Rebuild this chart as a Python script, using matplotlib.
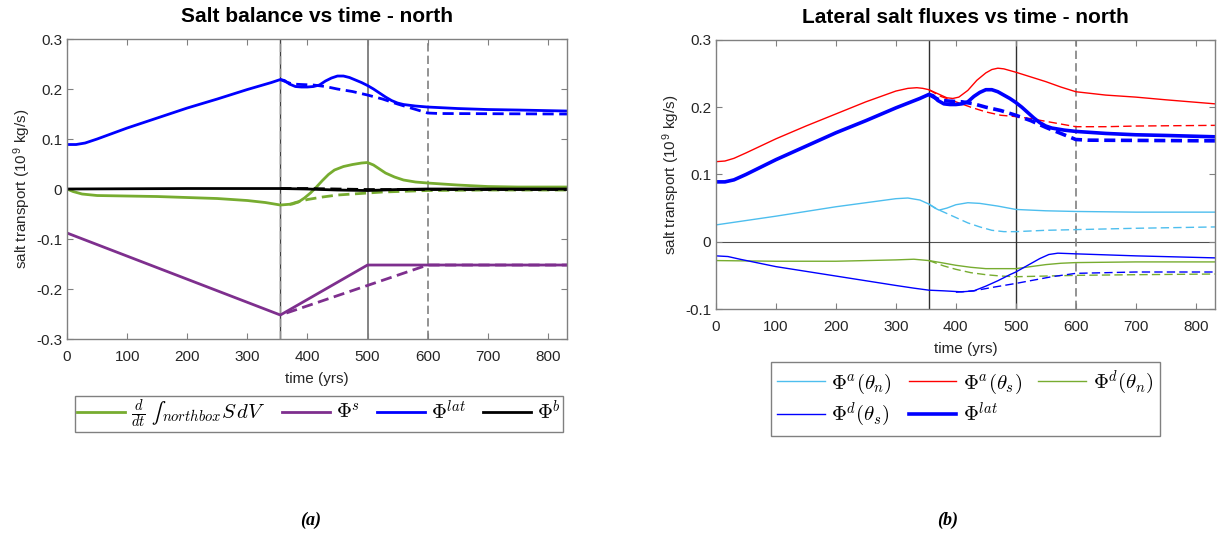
"""Salt balance / lateral salt fluxes vs time, north box (two panels)."""
import matplotlib
matplotlib.use("Agg")
import matplotlib.pyplot as plt

plt.rcParams["font.family"] = ["Liberation Sans", "DejaVu Sans"]
plt.rcParams["mathtext.fontset"] = "cm"
plt.rcParams["lines.scale_dashes"] = False

XMAX = 832
T_SWITCH = 355      # forcing change
T_END_A = 500       # end of ramp (solid)
T_END_B = 600       # end of ramp (dashed)

# ---- Phi^lat (shared by both panels) ----
t_lat = [0, 15, 30, 50, 75, 100, 150, 200, 250, 300, 340, 355, 362, 370, 380, 390,
         400, 410, 420, 430, 440, 450, 460, 470, 480, 490, 500, 510, 520, 530, 540,
         550, 560, 580, 600, 650, 700, 750, 832]
lat = [0.089, 0.089, 0.092, 0.100, 0.111, 0.122, 0.142, 0.162, 0.180, 0.199, 0.213,
       0.219, 0.217, 0.210, 0.205, 0.204, 0.204, 0.205, 0.208, 0.216, 0.222, 0.226,
       0.226, 0.223, 0.218, 0.213, 0.207, 0.200, 0.192, 0.184, 0.177, 0.172, 0.169,
       0.166, 0.164, 0.161, 0.159, 0.158, 0.156]
t_lat_d = [355, 365, 375, 390, 410, 430, 450, 475, 500, 525, 550, 575, 600, 620, 832]
lat_d = [0.219, 0.214, 0.210, 0.209, 0.208, 0.205, 0.200, 0.195, 0.188, 0.180,
         0.170, 0.161, 0.152, 0.151, 0.150]

# ---- panel (a) ----
t_dsdt = [0, 10, 25, 50, 100, 150, 200, 250, 300, 330, 355, 365, 375, 385, 395, 405,
          415, 425, 435, 445, 460, 475, 490, 500, 510, 520, 530, 545, 560, 580, 600,
          650, 700, 750, 832]
dsdt = [0.0, -0.005, -0.010, -0.013, -0.014, -0.015, -0.017, -0.019, -0.023, -0.027,
        -0.032, -0.031, -0.030, -0.026, -0.018, -0.008, 0.004, 0.017, 0.029, 0.038,
        0.045, 0.049, 0.052, 0.053, 0.048, 0.040, 0.032, 0.024, 0.018, 0.014, 0.012,
        0.008, 0.005, 0.004, 0.004]
t_dsdt_d = [370, 380, 400, 425, 450, 475, 500, 525, 550, 600, 700, 832]
dsdt_d = [-0.031, -0.027, -0.021, -0.016, -0.012, -0.010, -0.008, -0.006, -0.005,
          -0.003, -0.002, -0.002]

t_surf = [0, 355, 500, 832]
surf = [-0.088, -0.252, -0.152, -0.152]
t_surf_d = [365, 600, 832]
surf_d = [-0.248, -0.152, -0.152]

t_bot = [0, 200, 355, 400, 450, 500, 550, 600, 832]
bot = [0.0, 0.001, 0.001, 0.0, -0.002, -0.003, -0.001, 0.0, 0.0]
t_bot_d = [355, 400, 450, 500, 600, 832]
bot_d = [0.001, 0.001, 0.0, -0.001, -0.001, -0.001]

# ---- panel (b) ----
t_as = [0, 15, 30, 50, 100, 150, 200, 250, 300, 320, 335, 345, 355, 370, 385, 395,
        405, 420, 435, 450, 460, 470, 480, 500, 525, 550, 575, 600, 650, 700, 750, 832]
adv_s = [0.119, 0.120, 0.124, 0.132, 0.153, 0.172, 0.190, 0.208, 0.224, 0.228, 0.229,
         0.228, 0.226, 0.220, 0.214, 0.213, 0.215, 0.225, 0.240, 0.251, 0.256, 0.258,
         0.257, 0.252, 0.245, 0.238, 0.230, 0.223, 0.218, 0.215, 0.211, 0.205]
t_as_d = [355, 375, 400, 425, 450, 475, 500, 525, 550, 575, 600, 650, 700, 832]
adv_s_d = [0.226, 0.216, 0.208, 0.200, 0.193, 0.188, 0.186, 0.183, 0.179, 0.175,
           0.171, 0.171, 0.172, 0.173]

t_an = [0, 100, 200, 300, 320, 340, 355, 365, 372, 385, 400, 420, 440, 470, 500,
        550, 600, 700, 832]
adv_n = [0.025, 0.038, 0.052, 0.064, 0.065, 0.062, 0.056, 0.050, 0.047, 0.050, 0.055,
         0.058, 0.057, 0.053, 0.048, 0.046, 0.045, 0.044, 0.044]
t_an_d = [355, 370, 385, 400, 420, 440, 460, 480, 500, 550, 600, 700, 832]
adv_n_d = [0.056, 0.048, 0.042, 0.036, 0.028, 0.022, 0.017, 0.015, 0.015, 0.017,
           0.018, 0.020, 0.022]

t_dn = [0, 100, 200, 300, 330, 355, 375, 400, 425, 450, 475, 500, 525, 550, 575,
        600, 700, 832]
dif_n = [-0.028, -0.029, -0.029, -0.027, -0.026, -0.028, -0.031, -0.035, -0.038,
         -0.040, -0.040, -0.040, -0.037, -0.034, -0.032, -0.031, -0.030, -0.030]
t_dn_d = [355, 380, 400, 425, 450, 475, 500, 550, 600, 700, 832]
dif_n_d = [-0.028, -0.036, -0.041, -0.046, -0.049, -0.051, -0.052, -0.051, -0.050,
           -0.049, -0.048]

t_ds = [0, 20, 40, 100, 150, 200, 250, 300, 330, 355, 380, 410, 430, 450, 470, 490,
        500, 520, 540, 555, 570, 600, 700, 832]
dif_s = [-0.021, -0.022, -0.026, -0.037, -0.044, -0.051, -0.058, -0.065, -0.069,
         -0.072, -0.073, -0.0745, -0.073, -0.066, -0.058, -0.049, -0.045, -0.035,
         -0.025, -0.019, -0.017, -0.018, -0.021, -0.024]
t_ds_d = [400, 430, 460, 500, 530, 560, 600, 650, 700, 832]
dif_s_d = [-0.075, -0.073, -0.068, -0.062, -0.057, -0.052, -0.047, -0.046, -0.045,
           -0.045]

GREEN = "#77AC30"
PURPLE = "#7E2F8E"
BLUE = "#0000FF"
LBLUE = "#4DBEEE"
RED = "#FF0000"
SPINE = "#808080"
DASH_THICK = (0, (8, 4))
DASH_THIN = (0, (6, 3))


def style_axes(ax, yticks):
    ax.set_xlim(0, XMAX)
    ax.set_xticks(range(0, 900, 100))
    ax.set_ylim(yticks[0], yticks[-1])
    ax.set_yticks(yticks)
    ax.set_yticklabels([f"{v:g}" for v in yticks])
    ax.tick_params(direction="in", length=4, width=0.8, top=True, right=True,
                   colors=SPINE, labelcolor="#262626", labelsize=11)
    ax.tick_params(axis="x", pad=8)
    for s in ax.spines.values():
        s.set_color(SPINE)
        s.set_linewidth(1.0)
    ax.set_xlabel("time (yrs)", fontsize=11, color="#262626", labelpad=6)
    ax.set_ylabel(r"salt transport (10$^{\mathregular{9}}$ kg/s)", fontsize=11,
                  color="#262626", labelpad=2)


fig = plt.figure(figsize=(12.17, 5.36), dpi=100)
ax1 = fig.add_axes([0.0551, 0.3675, 0.4108, 0.5597])
ax2 = fig.add_axes([0.5883, 0.4235, 0.4100, 0.5020])

# ----- (a) salt balance -----
ax1.axvline(T_SWITCH, color="#404040", lw=1.0, zorder=1)
ax1.axvline(T_SWITCH, color="#909090", lw=1.0, ls=DASH_THIN, zorder=1)
ax1.axvline(T_END_A, color="#707070", lw=1.2, zorder=1)
ax1.axvline(T_END_B, color="#808080", lw=1.2, ls=DASH_THIN, zorder=1)

h1, = ax1.plot(t_dsdt, dsdt, color=GREEN, lw=2)
ax1.plot(t_dsdt_d, dsdt_d, color=GREEN, lw=2, ls=DASH_THICK)
h2, = ax1.plot(t_surf, surf, color=PURPLE, lw=2)
ax1.plot(t_surf_d, surf_d, color=PURPLE, lw=2, ls=DASH_THICK)
h3, = ax1.plot(t_lat, lat, color=BLUE, lw=2)
ax1.plot(t_lat_d, lat_d, color=BLUE, lw=2, ls=DASH_THICK)
h4, = ax1.plot(t_bot, bot, color="black", lw=2)
ax1.plot(t_bot_d, bot_d, color="black", lw=2, ls=DASH_THICK)

style_axes(ax1, [-0.3, -0.2, -0.1, 0, 0.1, 0.2, 0.3])
ax1.set_title("Salt balance vs time - north", fontsize=15, fontweight="bold", pad=12)

# plain unicode integral keeps the sign at text size (as in the original legend)
leg1 = fig.legend([h1, h2, h3, h4],
                  ["$\\frac{d}{dt}\\;\u222b_{northbox} S\\,dV$", r"$\Phi^s$",
                   r"$\Phi^{lat}$", r"$\Phi^b$"],
                  ncol=4, loc="center", bbox_to_anchor=(0.262, 0.2276),
                  fontsize=15, handlelength=2.3, handletextpad=0.3,
                  columnspacing=0.8, borderpad=0.1, fancybox=False,
                  edgecolor=SPINE, framealpha=1)
leg1.get_frame().set_linewidth(1.0)

# ----- (b) lateral fluxes -----
ax2.axhline(0, color="#505050", lw=0.8, zorder=1)
ax2.axvline(T_SWITCH, color="#303030", lw=1.0, zorder=1)
ax2.axvline(T_END_A, color="#303030", lw=1.0, zorder=1)
ax2.axvline(T_END_B, color="#808080", lw=1.2, ls=DASH_THIN, zorder=1)

g1, = ax2.plot(t_an, adv_n, color=LBLUE, lw=1.0)
ax2.plot(t_an_d, adv_n_d, color=LBLUE, lw=1.0, ls=DASH_THIN)
g2, = ax2.plot(t_as, adv_s, color=RED, lw=1.0)
ax2.plot(t_as_d, adv_s_d, color=RED, lw=1.0, ls=DASH_THIN)
g3, = ax2.plot(t_dn, dif_n, color=GREEN, lw=1.0)
ax2.plot(t_dn_d, dif_n_d, color=GREEN, lw=1.0, ls=DASH_THIN)
g4, = ax2.plot(t_ds, dif_s, color=BLUE, lw=1.0)
ax2.plot(t_ds_d, dif_s_d, color=BLUE, lw=1.0, ls=DASH_THIN)
g5, = ax2.plot(t_lat, lat, color=BLUE, lw=2.6)
ax2.plot(t_lat_d, lat_d, color=BLUE, lw=2.6, ls=DASH_THICK)

style_axes(ax2, [-0.1, 0, 0.1, 0.2, 0.3])
ax2.set_title("Lateral salt fluxes vs time - north", fontsize=15,
              fontweight="bold", pad=12)

# column-major order so that the legend reads row by row
leg2 = fig.legend([g1, g4, g2, g5, g3],
                  [r"$\Phi^a(\theta_n)$", r"$\Phi^d(\theta_s)$",
                   r"$\Phi^a(\theta_s)$", r"$\Phi^{lat}$", r"$\Phi^d(\theta_n)$"],
                  ncol=3, loc="center", bbox_to_anchor=(0.793, 0.2556),
                  fontsize=15, handlelength=2.3, handletextpad=0.3,
                  columnspacing=0.8, borderpad=0.3, labelspacing=0.25,
                  fancybox=False, edgecolor=SPINE, framealpha=1)
leg2.get_frame().set_linewidth(1.0)

fig.text(311 / 1217, 1 - 520 / 536, "(a)", ha="center", va="center",
         family="Liberation Serif", fontweight="bold", style="italic", fontsize=13)
fig.text(948 / 1217, 1 - 520 / 536, "(b)", ha="center", va="center",
         family="Liberation Serif", fontweight="bold", style="italic", fontsize=13)

fig.savefig("out.png", dpi=100)
